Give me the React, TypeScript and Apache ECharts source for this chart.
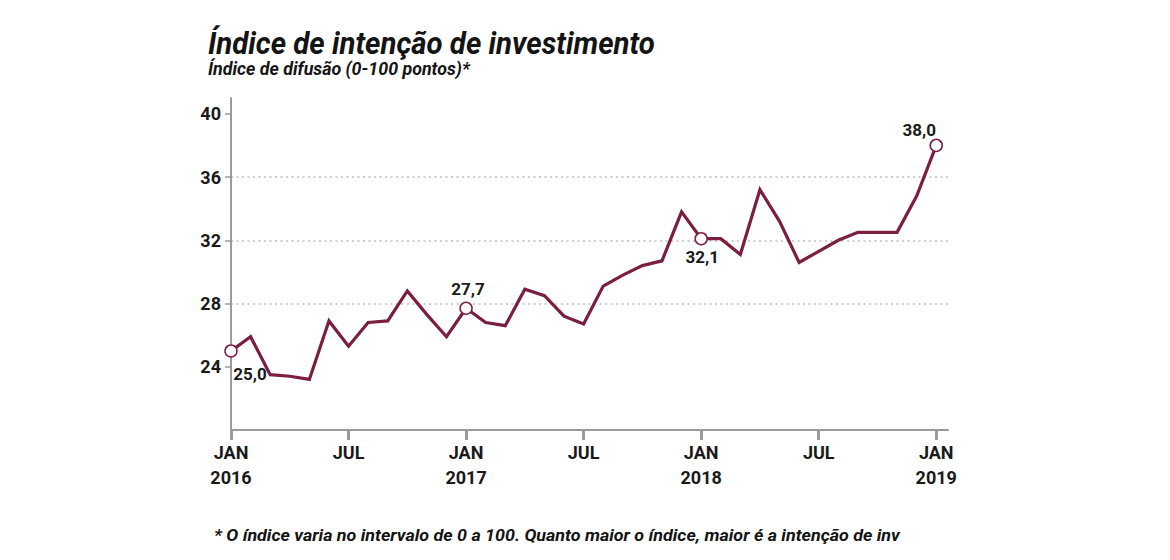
import React, { useEffect, useRef } from "react";
import * as echarts from "echarts";

const titleText = "Índice de intenção de investimento";
const subtitleText = "Índice de difusão (0-100 pontos)*";
const footnoteText =
  "* O índice varia no intervalo de 0 a 100. Quanto maior o índice, maior é a intenção de inv";

// Monthly values, Jan 2016 (index 0) to Jan 2019 (index 36)
const values = [
  25.0, 25.9, 23.5, 23.4, 23.2, 26.9, 25.3, 26.8, 26.9, 28.8, 27.3, 25.9,
  27.7, 26.8, 26.6, 28.9, 28.5, 27.2, 26.7, 29.1, 29.8, 30.4, 30.7, 33.8,
  32.1, 32.1, 31.1, 35.2, 33.2, 30.6, 31.3, 32.0, 32.5, 32.5, 32.5, 34.8,
  38.0,
];

const tickMonths = [0, 6, 12, 18, 24, 30, 36];
const tickLabels = ["JAN\n2016", "JUL", "JAN\n2017", "JUL", "JAN\n2018", "JUL", "JAN\n2019"];
const yTicks = [24, 28, 32, 36, 40];

const highlighted = [0, 12, 24, 36];
const highlightLabels = ["25,0", "27,7", "32,1", "38,0"];
const highlightOffsets = [
  [19, 23],
  [2, -19],
  [1, 18],
  [-17, -15],
];

const LINE = "#7a1f3d";

function fitScale(text: string, font: string, target: number) {
  const ctx = document.createElement("canvas").getContext("2d");
  if (!ctx) return 1;
  ctx.font = font;
  const w = ctx.measureText(text).width;
  return w > 0 ? target / w : 1;
}

export default function App() {
  const ref = useRef<HTMLDivElement>(null);

  useEffect(() => {
    if (!ref.current) return;
    const chart = echarts.init(ref.current, undefined, { renderer: "svg" });

    const titleScale = fitScale(titleText, "italic bold 31px Roboto", 447);
    const subScale = fitScale(subtitleText, "italic bold 19px Roboto", 262);
    const footScale = fitScale(footnoteText, "italic bold 16px Roboto", 686);

    const lineData = values.map((v, i) => [i, v]);
    const markerData = highlighted.map((idx, k) => ({
      value: [idx, values[idx]],
      label: {
        show: true,
        position: "inside",
        offset: highlightOffsets[k],
        formatter: highlightLabels[k],
      },
    }));

    const textStyleBase = {
      fontFamily: "Roboto",
      fontWeight: "bold",
      fontStyle: "italic",
      fill: "#141414",
      verticalAlign: "middle",
    };

    chart.setOption({
      animation: false,
      backgroundColor: "#ffffff",
      textStyle: { fontFamily: "Roboto" },
      graphic: [
        {
          type: "text",
          x: 208,
          y: 43,
          scaleX: titleScale,
          style: { ...textStyleBase, text: titleText, fontSize: 31 },
        },
        {
          type: "text",
          x: 208,
          y: 68.3,
          scaleX: subScale,
          style: { ...textStyleBase, text: subtitleText, fontSize: 19 },
        },
        {
          type: "text",
          x: 214,
          y: 535.5,
          scaleX: footScale,
          style: { ...textStyleBase, text: footnoteText, fontSize: 16 },
        },
      ],
      grid: {
        left: 231,
        right: 222,
        top: 98,
        bottom: 130,
        outerBoundsMode: "none",
      },
      xAxis: {
        type: "value",
        min: 0,
        max: 36.6,
        axisLine: { show: true, lineStyle: { color: "#9a9a9a", width: 2 } },
        axisTick: {
          show: true,
          customValues: tickMonths,
          length: 10,
          lineStyle: { color: "#9a9a9a", width: 3 },
        },
        axisLabel: {
          customValues: tickMonths,
          margin: 10,
          formatter: (v: number) => {
            const i = tickMonths.indexOf(v);
            return i >= 0 ? tickLabels[i] : "";
          },
          fontFamily: "Roboto",
          fontSize: 18,
          fontWeight: "bold",
          color: "#1a1a1a",
          lineHeight: 25,
        },
        splitLine: { show: false },
      },
      yAxis: {
        type: "value",
        min: 20,
        max: 41,
        interval: 4,
        axisLine: { show: true, lineStyle: { color: "#9a9a9a", width: 2 } },
        axisTick: {
          show: true,
          customValues: yTicks,
          length: 6,
          lineStyle: { color: "#9a9a9a", width: 1.5 },
        },
        axisLabel: {
          customValues: yTicks,
          margin: 10,
          fontFamily: "Roboto",
          fontSize: 18,
          fontWeight: "bold",
          color: "#1a1a1a",
        },
        splitLine: {
          show: true,
          showMinLine: false,
          showMaxLine: false,
          lineStyle: { color: "#bdbdbd", width: 1.5, type: [2, 3.5] },
        },
      },
      series: [
        {
          type: "line",
          data: lineData,
          symbol: "none",
          lineStyle: { color: LINE, width: 3.2, join: "miter" },
          z: 2,
        },
        {
          type: "scatter",
          data: markerData,
          symbol: "circle",
          symbolSize: 12,
          itemStyle: { color: "#ffffff", borderColor: LINE, borderWidth: 1.5, opacity: 1 },
          label: {
            fontFamily: "Roboto",
            fontSize: 17,
            fontWeight: "bold",
            color: "#1a1a1a",
          },
          z: 3,
        },
      ],
    });

    return () => chart.dispose();
  }, []);

  return (
    <div
      ref={ref}
      style={{ position: "fixed", left: 0, top: 0, width: 1170, height: 560, background: "#fff" }}
    />
  );
}
